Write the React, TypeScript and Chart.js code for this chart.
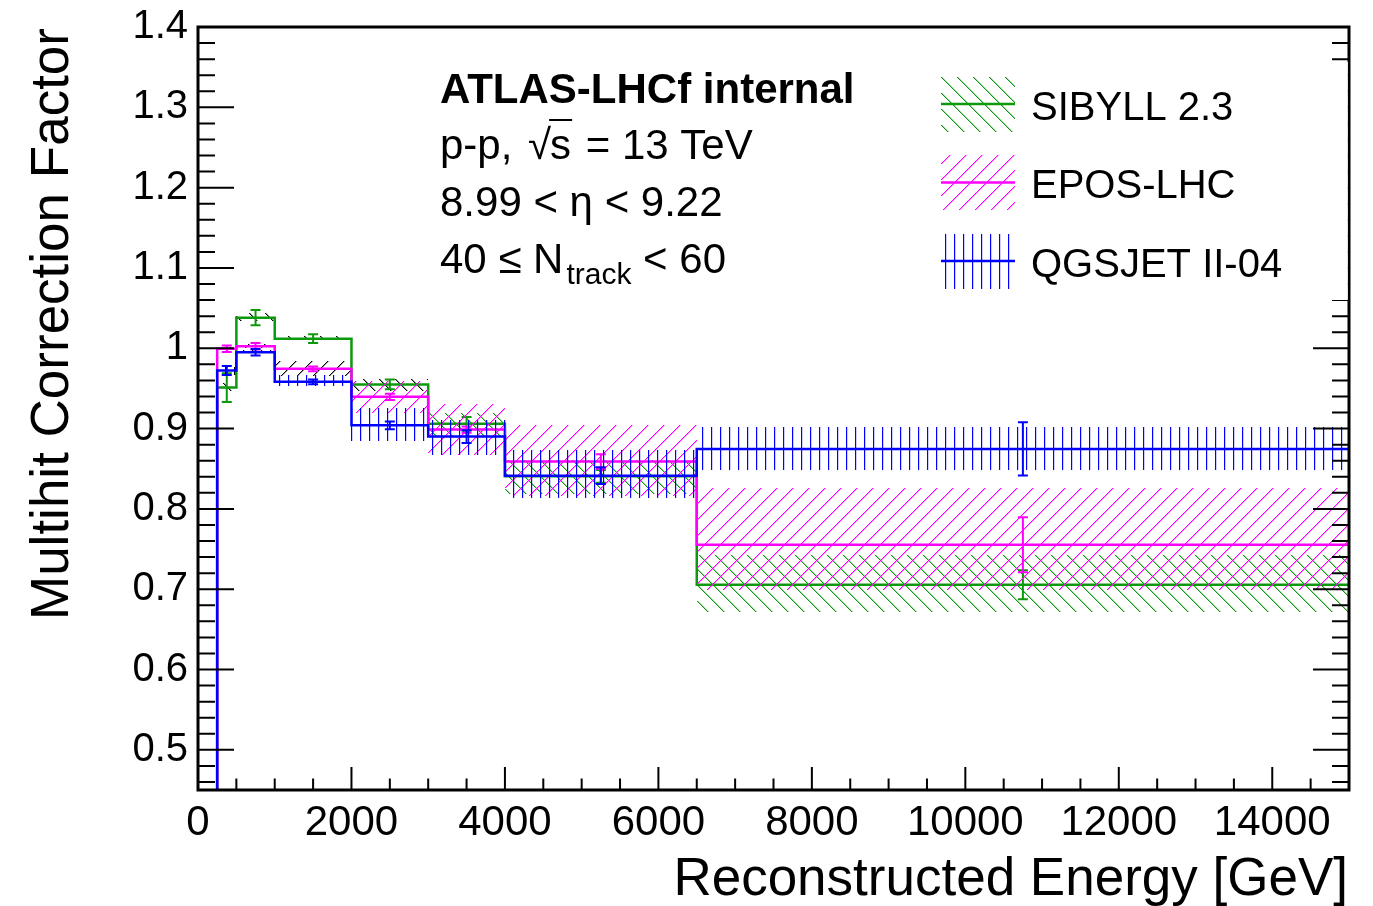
import React, { useEffect, useRef } from 'react';
import { Chart, registerables } from 'chart.js';

Chart.register(...registerables);

// ---------------- data ----------------
const BIN_EDGES = [0, 250, 500, 1000, 2000, 3000, 4000, 6500, 15000];

const SIBYLL_VALUES = [0, 0.951, 1.038, 1.012, 0.955, 0.906, 0.8405, 0.7055];
const SIBYLL_STAT = [0, 0.018, 0.0095, 0.0056, 0.006, 0.0085, 0.008, 0.018];
const SIBYLL_SYS_LOW = [0, 0.9465, 1.0338, 1.0106, 0.9465, 0.8904, 0.818, 0.672];
const SIBYLL_SYS_HIGH = [0, 0.957, 1.0434, 1.0155, 0.9623, 0.9196, 0.861, 0.743];

const EPOS_VALUES = [0, 0.9994, 1.0026, 0.9744, 0.9395, 0.8987, 0.859, 0.7554];
const EPOS_STAT = [0, 0.004, 0.004, 0.003, 0.004, 0.004, 0.009, 0.0343];
const EPOS_SYS_LOW = [0, 0.994, 1.0, 0.9653, 0.9196, 0.8676, 0.8156, 0.699];
const EPOS_SYS_HIGH = [0, 1.002, 1.005, 0.984, 0.959, 0.931, 0.905, 0.826];

const QGSJET_VALUES = [0, 0.9723, 0.995, 0.9582, 0.904, 0.89, 0.8414, 0.8747];
const QGSJET_STAT = [0, 0.0056, 0.004, 0.003, 0.0048, 0.008, 0.0104, 0.0332];
const QGSJET_SYS_LOW = [0, 0.967, 0.9935, 0.9528, 0.885, 0.8676, 0.8136, 0.849];
const QGSJET_SYS_HIGH = [0, 0.977, 0.9975, 0.9673, 0.925, 0.911, 0.8738, 0.902];

const SERIES_LABELS = ['SIBYLL 2.3', 'EPOS-LHC', 'QGSJET II-04'];

const X_TICK_VALUES = [0, 2000, 4000, 6000, 8000, 10000, 12000, 14000];
const Y_TICK_VALUES = [0.5, 0.6, 0.7, 0.8, 0.9, 1, 1.1, 1.2, 1.3, 1.4];
const Y_TICK_LABELS = ['0.5', '0.6', '0.7', '0.8', '0.9', '1', '1.1', '1.2', '1.3', '1.4'];

const X_MIN = 0;
const X_MAX = 15000;
const Y_MIN = 0.45;
const Y_MAX = 1.4;

const TEXT_LINES = ['ATLAS-LHCf internal', 'p-p,', '8.99 < \u03b7 < 9.22'];
const X_TITLE = 'Reconstructed Energy [GeV]';
const Y_TITLE = 'Multihit Correction Factor';

// ---------------- styles ----------------
const GREEN = '#0c990c';
const MAGENTA = '#ff00ff';
const BLUE = '#0000ff';
const FONT = '"Liberation Sans", Arial, Helvetica, sans-serif';

type Hatch = 'back' | 'fwd' | 'vert';
const SERIES_STYLE: { color: string; hatch: Hatch; darkBins: number; order: number }[] = [
  { color: GREEN, hatch: 'back', darkBins: 4, order: 3 },
  { color: MAGENTA, hatch: 'fwd', darkBins: 3, order: 2 },
  { color: BLUE, hatch: 'vert', darkBins: 2, order: 1 },
];

const SERIES = [
  { values: SIBYLL_VALUES, stat: SIBYLL_STAT, low: SIBYLL_SYS_LOW, high: SIBYLL_SYS_HIGH },
  { values: EPOS_VALUES, stat: EPOS_STAT, low: EPOS_SYS_LOW, high: EPOS_SYS_HIGH },
  { values: QGSJET_VALUES, stat: QGSJET_STAT, low: QGSJET_SYS_LOW, high: QGSJET_SYS_HIGH },
];

function histPoints(values: number[]) {
  const pts = values.map((v, i) => ({ x: BIN_EDGES[i], y: v }));
  pts.push({ x: BIN_EDGES[BIN_EDGES.length - 1], y: values[values.length - 1] });
  return pts;
}

// pixel hatching (like ROOT fill styles 3004 / 3005 / 3006)
function drawHatch(
  ctx: CanvasRenderingContext2D,
  x0: number, y0: number, x1: number, y1: number,
  kind: Hatch, color: string
) {
  const ix0 = Math.round(x0), ix1 = Math.round(x1);
  const iy0 = Math.round(y0), iy1 = Math.round(y1);
  if (ix1 <= ix0 || iy1 <= iy0) return;
  ctx.save();
  ctx.fillStyle = color;
  if (kind === 'vert') {
    const step = 9;
    for (let x = Math.ceil(ix0 / step) * step; x < ix1; x += step) {
      ctx.fillRect(x, iy0, 1.2, iy1 - iy0);
    }
  } else if (kind === 'fwd') {
    const step = 16;
    for (let c = Math.floor((ix0 + iy0) / step) * step; c < ix1 + iy1; c += step) {
      for (let y = iy0; y < iy1; y++) {
        const x = c - y;
        if (x >= ix0 && x < ix1) ctx.fillRect(x, y, Math.min(1.4, ix1 - x), 1);
      }
    }
  } else {
    const step = 16;
    for (let c = Math.floor((ix0 - iy1) / step) * step; c < ix1 - iy0; c += step) {
      for (let y = iy0; y < iy1; y++) {
        const x = c + y;
        if (x >= ix0 && x < ix1) ctx.fillRect(x, y, Math.min(1.4, ix1 - x), 1);
      }
    }
  }
  ctx.restore();
}

const rootPlugin = {
  id: 'rootStyle',
  beforeDatasetDraw(chart: any, args: any) {
    const s = SERIES[args.index];
    const st = SERIES_STYLE[args.index];
    if (!s) return;
    const { ctx, chartArea } = chart;
    const xs = chart.scales.x;
    const ys = chart.scales.y;
    ctx.save();
    ctx.beginPath();
    ctx.rect(chartArea.left, chartArea.top, chartArea.right - chartArea.left, chartArea.bottom - chartArea.top);
    ctx.clip();
    for (let i = 0; i < s.values.length; i++) {
      if (s.high[i] <= s.low[i]) continue;
      const x0 = xs.getPixelForValue(BIN_EDGES[i]);
      const x1 = xs.getPixelForValue(BIN_EDGES[i + 1]);
      const yt = ys.getPixelForValue(s.high[i]);
      const yb = ys.getPixelForValue(s.low[i]);
      const col = i <= st.darkBins ? '#000000' : st.color;
      drawHatch(ctx, x0, yt, x1, yb, st.hatch, col);
    }
    ctx.restore();
  },
  afterDatasetDraw(chart: any, args: any) {
    const s = SERIES[args.index];
    const st = SERIES_STYLE[args.index];
    if (!s) return;
    const { ctx, chartArea } = chart;
    const xs = chart.scales.x;
    const ys = chart.scales.y;
    ctx.save();
    ctx.beginPath();
    ctx.rect(chartArea.left, chartArea.top, chartArea.right - chartArea.left, chartArea.bottom - chartArea.top);
    ctx.clip();
    ctx.strokeStyle = st.color;
    ctx.lineWidth = 2;
    ctx.beginPath();
    for (let i = 0; i < s.values.length; i++) {
      if (!(s.stat[i] > 0)) continue;
      const xc = xs.getPixelForValue((BIN_EDGES[i] + BIN_EDGES[i + 1]) / 2);
      const yt = ys.getPixelForValue(s.values[i] + s.stat[i]);
      const yb = ys.getPixelForValue(s.values[i] - s.stat[i]);
      ctx.moveTo(xc, yt);
      ctx.lineTo(xc, yb);
      ctx.moveTo(xc - 5, yt);
      ctx.lineTo(xc + 5, yt);
      ctx.moveTo(xc - 5, yb);
      ctx.lineTo(xc + 5, yb);
    }
    ctx.stroke();
    ctx.restore();
  },
  afterDraw(chart: any) {
    const { ctx, chartArea } = chart;
    const xs = chart.scales.x;
    const ys = chart.scales.y;
    const L = chartArea.left, R = chartArea.right, T = chartArea.top, B = chartArea.bottom;
    ctx.save();
    // ticks
    ctx.strokeStyle = '#000';
    ctx.lineWidth = 2;
    ctx.beginPath();
    for (let k = Math.ceil(Y_MIN / 0.02 - 1e-6); k <= Math.round(Y_MAX / 0.02); k++) {
      const y = ys.getPixelForValue(k * 0.02);
      const len = k % 5 === 0 ? 36 : 17;
      ctx.moveTo(L, y);
      ctx.lineTo(L + len, y);
      ctx.moveTo(R, y);
      ctx.lineTo(R - len, y);
    }
    for (let k = 0; k * 500 <= X_MAX; k++) {
      const x = xs.getPixelForValue(k * 500);
      const len = k % 4 === 0 ? 23 : 11.5;
      ctx.moveTo(x, B);
      ctx.lineTo(x, B - len);
    }
    ctx.stroke();
    // frame
    ctx.lineWidth = 3;
    ctx.strokeRect(L, T, R - L, B - T);

    // legend box (white, partly hiding the frame as in the original)
    const lgTop = 62, lgBottom = 300, lgLeft = 925;
    ctx.fillStyle = '#fff';
    ctx.fillRect(lgLeft, lgTop, R - 1.2 - lgLeft, lgBottom - lgTop);
    const rowY = [104, 182.5, 261];
    for (let i = 0; i < SERIES_LABELS.length; i++) {
      const st = SERIES_STYLE[i];
      const cy = rowY[i];
      drawHatch(ctx, 941, cy - 27.5, 1015, cy + 27.5, st.hatch, st.color);
      ctx.strokeStyle = st.color;
      ctx.lineWidth = 2.5;
      ctx.beginPath();
      ctx.moveTo(941, cy);
      ctx.lineTo(1015, cy);
      ctx.stroke();
      ctx.fillStyle = '#000';
      ctx.font = `40px ${FONT}`;
      ctx.textAlign = 'left';
      ctx.textBaseline = 'alphabetic';
      ctx.fillText(SERIES_LABELS[i], 1031, cy + 15.5);
    }

    // annotation text
    ctx.fillStyle = '#000';
    ctx.textAlign = 'left';
    ctx.textBaseline = 'alphabetic';
    ctx.font = `bold 42px ${FONT}`;
    ctx.fillText(TEXT_LINES[0], 440, 103);
    ctx.font = `42px ${FONT}`;
    // p-p, sqrt(s) = 13 TeV
    let x = 440;
    const by = 159;
    ctx.fillText(TEXT_LINES[1], x, by);
    x += ctx.measureText(TEXT_LINES[1] + ' ').width + 4;
    ctx.fillText('\u221a', x, by);
    x += ctx.measureText('\u221a').width - 1;
    const sW = ctx.measureText('s').width;
    ctx.fillText('s', x, by);
    ctx.strokeStyle = '#000';
    ctx.lineWidth = 2;
    ctx.beginPath();
    ctx.moveTo(x - 1, by - 39);
    ctx.lineTo(x + sW + 1, by - 39);
    ctx.stroke();
    x += sW;
    ctx.fillText(' = 13 TeV', x + 3, by);
    // eta range
    ctx.fillText(TEXT_LINES[2], 440, 216);
    // N track
    x = 440;
    const ny = 273;
    ctx.fillText('40 \u2264 N', x, ny);
    x += ctx.measureText('40 \u2264 N').width + 3;
    ctx.font = `30px ${FONT}`;
    ctx.fillText('track', x, ny + 11);
    x += ctx.measureText('track').width;
    ctx.font = `42px ${FONT}`;
    ctx.fillText(' < 60', x, ny);

    // axis titles
    ctx.font = `53px ${FONT}`;
    ctx.textAlign = 'right';
    ctx.fillText(X_TITLE, R - 1, 895);
    ctx.save();
    ctx.translate(68, T + 1);
    ctx.rotate(-Math.PI / 2);
    ctx.textAlign = 'right';
    ctx.fillText(Y_TITLE, 0, 0);
    ctx.restore();

    ctx.restore();
  },
};

export default function App() {
  const ref = useRef<HTMLCanvasElement>(null);
  useEffect(() => {
    document.body.style.margin = '0';
    const datasets = SERIES.map((s, i) => ({
      label: SERIES_LABELS[i],
      data: histPoints(s.values),
      borderColor: SERIES_STYLE[i].color,
      backgroundColor: SERIES_STYLE[i].color,
      borderWidth: 2.5,
      pointRadius: 0,
      pointHoverRadius: 0,
      fill: false,
      stepped: true,
      tension: 0,
      order: SERIES_STYLE[i].order,
      borderCapStyle: 'butt',
      borderJoinStyle: 'miter',
    }));
    const chart = new Chart(ref.current!, {
      type: 'line',
      data: { datasets } as any,
      options: {
        animation: false,
        responsive: false,
        events: [],
        layout: { padding: { top: 27, right: 24, left: 0, bottom: 0 } },
        plugins: { legend: { display: false }, tooltip: { enabled: false }, title: { display: false } },
        scales: {
          x: {
            type: 'linear',
            min: X_MIN,
            max: X_MAX,
            grid: { display: false, drawTicks: false },
            border: { display: false },
            afterBuildTicks: (scale: any) => {
              scale.ticks = X_TICK_VALUES.map((v) => ({ value: v }));
            },
            ticks: {
              autoSkip: false,
              maxRotation: 0,
              minRotation: 0,
              padding: 8,
              color: '#000',
              font: { family: FONT, size: 42 },
              callback: (v: any) => String(v),
            },
            afterFit: (scale: any) => {
              scale.height = 116;
              scale.paddingLeft = 0;
              scale.paddingRight = 0;
            },
          },
          y: {
            type: 'linear',
            min: Y_MIN,
            max: Y_MAX,
            grid: { display: false, drawTicks: false },
            border: { display: false },
            afterBuildTicks: (scale: any) => {
              scale.ticks = Y_TICK_VALUES.map((v) => ({ value: v }));
            },
            ticks: {
              autoSkip: false,
              padding: 10,
              color: '#000',
              font: { family: FONT, size: 40 },
              callback: (v: any, idx: number) => Y_TICK_LABELS[idx] ?? String(v),
            },
            afterFit: (scale: any) => {
              scale.width = 198;
              scale.paddingTop = 0;
              scale.paddingBottom = 0;
            },
          },
        },
      } as any,
      plugins: [rootPlugin],
    });
    return () => chart.destroy();
  }, []);
  return (
    <div style={{ position: 'absolute', left: 0, top: 0, width: 1373, height: 906, background: '#fff' }}>
      <canvas ref={ref} width={1373} height={906} style={{ width: 1373, height: 906, display: 'block' }} />
    </div>
  );
}
